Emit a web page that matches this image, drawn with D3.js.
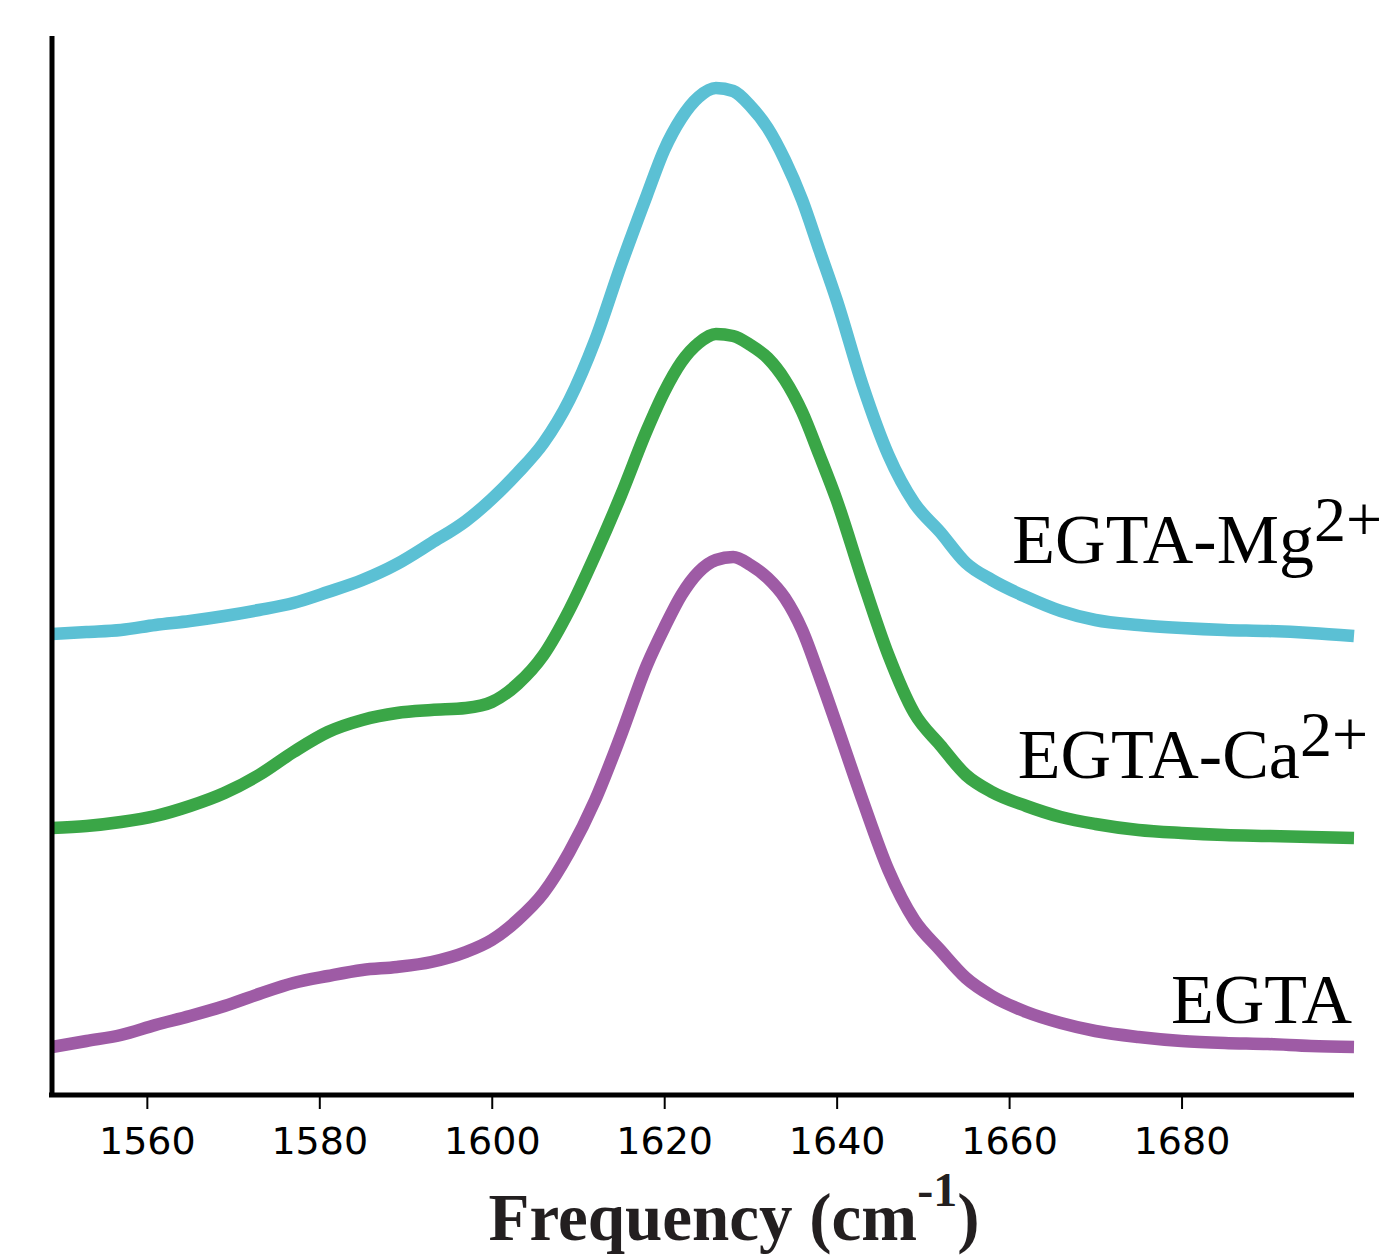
<!DOCTYPE html>
<html>
<head>
<meta charset="utf-8">
<script src="https://cdn.jsdelivr.net/npm/d3@7"></script>
<style>
  body { margin: 0; background: #fff; overflow: hidden; }
</style>
</head>
<body>
<script>
// wavenumber grid (cm-1)
const freq = [1549, 1553, 1557, 1561, 1565, 1569, 1573, 1577, 1581, 1585, 1589, 1593, 1597,
  1600, 1603, 1606, 1609, 1612, 1615, 1618, 1620, 1622, 1624, 1626, 1628, 1630, 1632, 1634,
  1636, 1638, 1640, 1643, 1646, 1649, 1652, 1655, 1658, 1662, 1666, 1670, 1675, 1680, 1685,
  1690, 1695, 1700];

// stacked absorbance (arbitrary units, offset per trace)
const egtaMg = [4.61, 4.63, 4.65, 4.70, 4.74, 4.79, 4.85, 4.92, 5.03, 5.15, 5.31, 5.52, 5.74,
  5.96, 6.22, 6.52, 6.95, 7.55, 8.30, 9.00, 9.45, 9.77, 9.98, 10.07, 10.04, 9.89, 9.67, 9.35,
  8.95, 8.45, 7.95, 7.10, 6.40, 5.92, 5.63, 5.32, 5.15, 4.98, 4.84, 4.75, 4.70, 4.67, 4.65,
  4.64, 4.62, 4.59];
const egtaCa = [2.67, 2.69, 2.73, 2.79, 2.89, 3.02, 3.20, 3.43, 3.63, 3.75, 3.82, 3.85, 3.87,
  3.93, 4.11, 4.40, 4.85, 5.40, 6.00, 6.65, 7.03, 7.33, 7.52, 7.61, 7.59, 7.50, 7.37, 7.15,
  6.83, 6.40, 5.95, 5.15, 4.40, 3.82, 3.50, 3.20, 3.03, 2.89, 2.78, 2.71, 2.65, 2.62, 2.60,
  2.59, 2.58, 2.57];
const egta = [0.48, 0.54, 0.60, 0.70, 0.79, 0.89, 1.01, 1.12, 1.19, 1.25, 1.28, 1.33, 1.43,
  1.55, 1.75, 2.02, 2.43, 2.95, 3.60, 4.30, 4.67, 5.00, 5.23, 5.35, 5.38, 5.30, 5.17, 4.97,
  4.65, 4.19, 3.70, 2.95, 2.25, 1.75, 1.45, 1.17, 0.99, 0.83, 0.72, 0.64, 0.58, 0.54, 0.52,
  0.51, 0.49, 0.48];

const xTicks = [1560, 1580, 1600, 1620, 1640, 1660, 1680];

const series = [
  { name: "EGTA-Mg", sup: "2+", values: egtaMg, color: "#5bc0d4" },
  { name: "EGTA-Ca", sup: "2+", values: egtaCa, color: "#3aa647" },
  { name: "EGTA", sup: "", values: egta, color: "#9e5ba5" }
];

const width = 1384, height = 1258;
const margin = { left: 52, right: 30, top: 36, bottom: 163 };

const svg = d3.select("body").append("svg")
  .attr("width", width)
  .attr("height", height);

const x = d3.scaleLinear()
  .domain([1549, 1700])
  .range([margin.left, width - margin.right]);

const y = d3.scaleLinear()
  .domain([0, 10.59])
  .range([height - margin.bottom, margin.top]);

const line = d3.line()
  .x((d, i) => x(freq[i]))
  .y(d => y(d))
  .curve(d3.curveMonotoneX);

// traces
series.forEach(s => {
  svg.append("path")
    .attr("d", line(s.values))
    .attr("fill", "none")
    .attr("stroke", s.color)
    .attr("stroke-width", 12.5)
    .attr("stroke-linejoin", "round");
});

// x axis
const xAxis = svg.append("g")
  .attr("transform", `translate(0,${height - margin.bottom})`)
  .call(d3.axisBottom(x).tickValues(xTicks).tickFormat(d3.format("d"))
    .tickSize(14).tickSizeOuter(0).tickPadding(18));
xAxis.select(".domain").attr("stroke", "#000").attr("stroke-width", 5)
  .attr("d", `M${margin.left - 3},0H${x(1700)}`);
xAxis.selectAll(".tick line").attr("stroke", "#000").attr("stroke-width", 2);
xAxis.selectAll(".tick text")
  .attr("font-family", "DejaVu Sans")
  .attr("font-size", 38)
  .attr("fill", "#000");

// y axis (no ticks)
svg.append("line")
  .attr("x1", margin.left).attr("x2", margin.left)
  .attr("y1", margin.top).attr("y2", height - margin.bottom + 2)
  .attr("stroke", "#000")
  .attr("stroke-width", 5);

// trace labels: superscript anchored at the right, name placed before it
const labelY = [563, 778, 1023];
const labelRight = [1382, 1368, 1352];
series.forEach((s, i) => {
  let right = labelRight[i];
  if (s.sup) {
    const sup = svg.append("text")
      .attr("x", right)
      .attr("y", labelY[i] - 22)
      .attr("text-anchor", "end")
      .attr("font-family", "Liberation Serif")
      .attr("font-size", 64)
      .attr("fill", "#000")
      .text(s.sup);
    right -= sup.node().getComputedTextLength();
  }
  svg.append("text")
    .attr("x", right)
    .attr("y", labelY[i])
    .attr("text-anchor", "end")
    .attr("font-family", "Liberation Serif")
    .attr("font-size", 70)
    .attr("fill", "#000")
    .text(s.name);
});

// axis title
const title = svg.append("text")
  .attr("x", 734)
  .attr("y", 1240)
  .attr("text-anchor", "middle")
  .attr("font-family", "Liberation Serif")
  .attr("font-weight", "bold")
  .attr("font-size", 67)
  .attr("fill", "#231f20")
  .text("Frequency (cm");
title.append("tspan").attr("dy", -34).attr("font-size", 48).text("-1");
title.append("tspan").attr("dy", 34).text(")");
</script>
</body>
</html>
